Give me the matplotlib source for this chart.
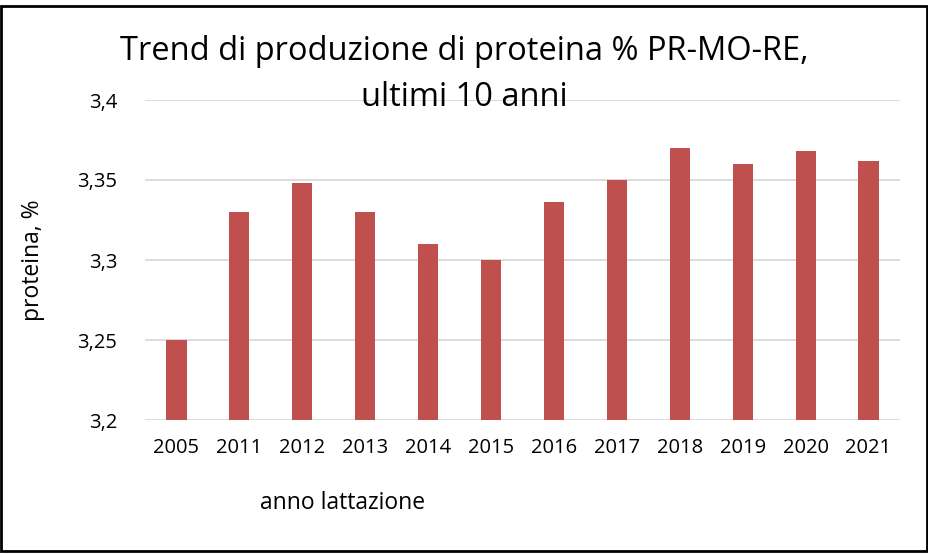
import matplotlib.pyplot as plt
from matplotlib.patches import Rectangle

# data
anni = ["2005", "2011", "2012", "2013", "2014", "2015", "2016", "2017", "2018", "2019", "2020", "2021"]
proteina = [3.25, 3.33, 3.348, 3.33, 3.31, 3.30, 3.336, 3.35, 3.37, 3.36, 3.368, 3.362]
yticks = [3.2, 3.25, 3.3, 3.35, 3.4]
ytick_labels = ["3,2", "3,25", "3,3", "3,35", "3,4"]

plt.rcParams['font.family'] = ['Open Sans', 'DejaVu Sans']

W, H = 929, 558
fig = plt.figure(figsize=(W / 100, H / 100), dpi=100)
ax = fig.add_axes([145 / W, 1 - 420 / H, (900 - 145) / W, (420 - 100) / H])

x = range(len(anni))
ax.bar(x, proteina, width=0.32, color="#c0504d", zorder=3)

ax.set_ylim(3.2, 3.4)
ax.set_xlim(-0.5, len(anni) - 0.5)
ax.set_yticks(yticks)
ax.set_yticklabels(ytick_labels)
ax.set_xticks(list(x))
ax.set_xticklabels(anni)
ax.tick_params(axis="both", length=0, labelsize=14.5)
ax.tick_params(axis="y", pad=20)
ax.tick_params(axis="x", pad=13)
ax.grid(axis="y", color="#d9d9d9", linewidth=1.3, zorder=0)
for s in ax.spines.values():
    s.set_visible(False)

# title
fig.text(464 / W, 1 - 52 / H, "Trend di produzione di proteina % PR-MO-RE,", ha="center", va="center", fontsize=23.5)
fig.text(464 / W, 1 - 98 / H, "ultimi 10 anni", ha="center", va="center", fontsize=23.5)

# axis labels
fig.text(33 / W, 1 - 260 / H, "proteina, %", rotation=90, ha="center", va="center", fontsize=16.5)
fig.text(343 / W, 1 - 503 / H, "anno lattazione", ha="center", va="center", fontsize=16.5)

# frame round the chart
fig.patches.append(Rectangle((1.5 / W, 1 - 551 / H), (927 - 1.5) / W, (551 - 6) / H,
                             transform=fig.transFigure, fill=False, edgecolor="black", linewidth=2))

fig.savefig("out.png", dpi=100)
